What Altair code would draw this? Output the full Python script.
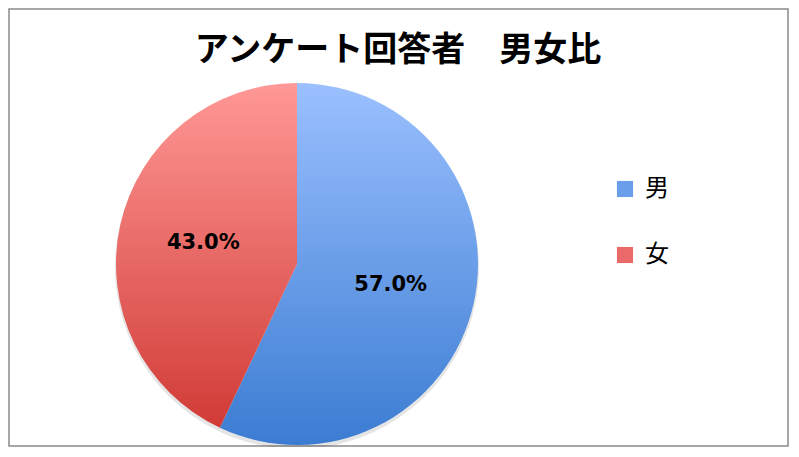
import altair as alt
import pandas as pd

categories = ["男", "女"]
shares = [57.0, 43.0]
labels = ["57.0%", "43.0%"]
order = [1, 2]

df = pd.DataFrame({"sex": categories, "share": shares, "label": labels, "ord": order})

blue_grad = {"gradient": "linear", "x1": 0, "y1": 0, "x2": 0, "y2": 1,
             "stops": [{"offset": 0, "color": "#9BC0FF"}, {"offset": 1, "color": "#3B7CD2"}]}
red_grad = {"gradient": "linear", "x1": 0, "y1": 0, "x2": 0, "y2": 1,
            "stops": [{"offset": 0, "color": "#FF9896"}, {"offset": 1, "color": "#D13B36"}]}

FONT = "Noto Sans CJK JP"
CX, CY, R = 288, 255, 181

base = alt.Chart(df)

shadow = base.mark_arc(outerRadius=R + 1, fill="#000000", fillOpacity=0.10).encode(
    theta=alt.Theta("share:Q", stack=True),
    order=alt.Order("ord:Q"),
    x=alt.value(CX), y=alt.value(CY + 3),
)

pie = base.mark_arc(outerRadius=R, stroke=None).encode(
    theta=alt.Theta("share:Q", stack=True),
    order=alt.Order("ord:Q"),
    fill=alt.condition(alt.datum.sex == "男", alt.value(blue_grad), alt.value(red_grad)),
    x=alt.value(CX), y=alt.value(CY),
)

legend_layer = base.mark_square(size=0, opacity=1, filled=True).encode(
    color=alt.Color("sex:N", scale=alt.Scale(domain=categories, range=["#6A9EEB", "#E96A68"]),
                    legend=alt.Legend(title=None, orient="none", legendX=604, legendY=168,
                                      symbolType="square", symbolSize=260, symbolStrokeWidth=0,
                                      symbolOpacity=1,
                                      labelFontSize=24, labelFont=FONT, labelColor="#000000",
                                      labelOffset=8, rowPadding=42, padding=0)),
    x=alt.value(CX), y=alt.value(CY),
)

text = base.mark_text(radius=96, fontSize=21, fontWeight="bold", font="DejaVu Sans", color="#000000").encode(
    theta=alt.Theta("share:Q", stack=True),
    order=alt.Order("ord:Q"),
    text="label:N",
    x=alt.value(CX), y=alt.value(CY),
)

title = alt.Chart(pd.DataFrame({"t": ["アンケート回答者　男女比"]})).mark_text(
    fontSize=34, fontWeight="bold", font=FONT, color="#000000", baseline="middle"
).encode(text="t:N", x=alt.value(389), y=alt.value(42))

chart = alt.layer(shadow, pie, legend_layer, text, title).properties(
    width=779, height=437, padding=1, autosize=alt.AutoSizeParams(type="none"),
    background="#ffffff",
).configure_view(stroke="#8B8B8B", strokeWidth=1.5)

chart.save("out.html", embed_options={"renderer": "svg", "actions": False})
